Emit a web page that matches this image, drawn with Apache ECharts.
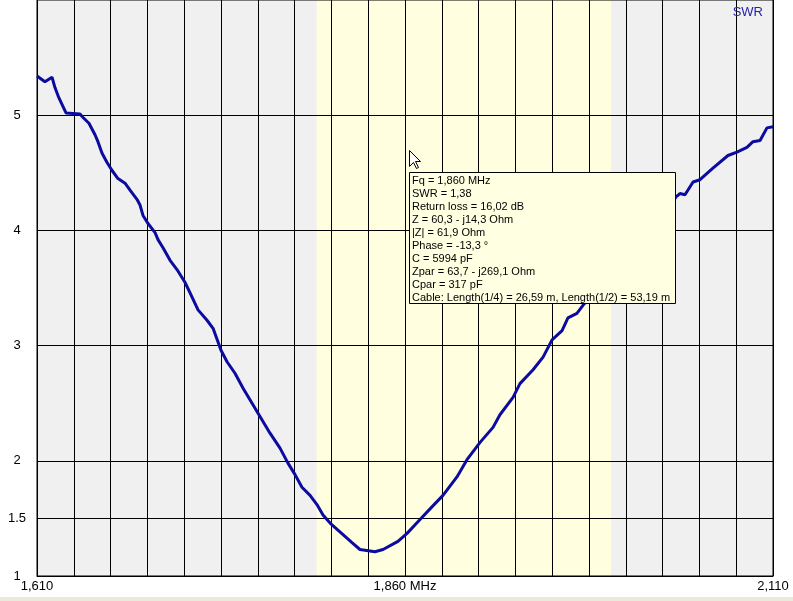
<!DOCTYPE html>
<html>
<head>
<meta charset="utf-8">
<script src="https://cdn.jsdelivr.net/npm/echarts@6/dist/echarts.min.js"></script>
<style>
html,body{margin:0;padding:0;background:#fff;}
#c{width:793px;height:601px;}
</style>
</head>
<body>
<div id="c"></div>
<script>
// Frequency (MHz) and SWR
var freqMHz = [1.6100,1.6154,1.6202,1.6222,1.6249,1.6297,1.6392,1.6413,1.6453,1.6494,1.6514,1.6542,1.6576,1.6610,1.6650,1.6698,1.6732,1.6779,1.6800,1.6820,1.6854,1.6902,1.6922,1.6956,1.7004,1.7051,1.7105,1.7139,1.7194,1.7255,1.7296,1.7350,1.7391,1.7445,1.7500,1.7561,1.7622,1.7683,1.7751,1.7805,1.7853,1.7900,1.7955,1.8002,1.8043,1.8091,1.8179,1.8240,1.8294,1.8396,1.8451,1.8552,1.8614,1.8702,1.8783,1.8858,1.8953,1.9021,1.9110,1.9198,1.9245,1.9334,1.9381,1.9470,1.9538,1.9599,1.9667,1.9707,1.9768,1.9809,1.9925,2.0061,2.0196,2.0319,2.0441,2.0468,2.0502,2.0557,2.0604,2.0692,2.0794,2.0855,2.0923,2.0964,2.1012,2.1059,2.1100];
var swr = [5.34,5.29,5.33,5.24,5.15,5.02,5.01,4.98,4.93,4.83,4.77,4.67,4.59,4.52,4.45,4.41,4.35,4.27,4.22,4.13,4.06,3.98,3.92,3.85,3.74,3.66,3.55,3.46,3.31,3.22,3.15,2.96,2.86,2.76,2.63,2.50,2.37,2.24,2.11,1.98,1.88,1.77,1.70,1.62,1.53,1.46,1.36,1.29,1.23,1.21,1.23,1.30,1.37,1.49,1.60,1.70,1.86,2.01,2.16,2.29,2.40,2.55,2.67,2.79,2.90,3.05,3.13,3.24,3.28,3.35,3.51,3.72,3.92,4.10,4.29,4.32,4.31,4.42,4.44,4.54,4.65,4.68,4.72,4.77,4.78,4.89,4.90];

var xMin = 1.610, xMax = 2.110, xStep = 0.025;
var yMin = 1, yMax = 6;
var bandStart = 1.800, bandEnd = 2.000;

var xLabelValues = [1.610, 1.860, 2.110];
var xLabelTexts = ['1,610', '1,860 MHz', '2,110'];
var yTickValues = [1, 1.5, 2, 3, 4, 5];
var yTickTexts = ['1', '1.5', '2', '3', '4', '5'];

var tooltipLines = [
  'Fq = 1,860 MHz',
  'SWR = 1,38',
  'Return loss = 16,02 dB',
  'Z = 60,3 - j14,3 Ohm',
  '|Z| = 61,9 Ohm',
  'Phase = -13,3 °',
  'C = 5994 pF',
  'Zpar = 63,7 - j269,1 Ohm',
  'Cpar = 317 pF',
  'Cable: Length(1/4) = 26,59 m, Length(1/2) = 53,19 m'
];

var xGridValues = [];
for (var i = 0; i <= Math.round((xMax - xMin) / xStep); i++) {
  xGridValues.push(+(xMin + i * xStep).toFixed(4));
}

var points = freqMHz.map(function (f, i) { return [f, swr[i]]; });

function pick(values, texts, v) {
  for (var i = 0; i < values.length; i++) {
    if (Math.abs(values[i] - v) < 1e-6) return texts[i];
  }
  return '';
}

var FONT = '"Liberation Sans", Arial, sans-serif';
var chart = echarts.init(document.getElementById('c'));
chart.setOption({
  animation: false,
  backgroundColor: '#ffffff',
  title: {
    text: 'SWR', right: 30, top: 6, padding: 0, z: 2,
    textStyle: { color: '#2323A8', fontSize: 13, fontWeight: 'normal', fontFamily: FONT }
  },
  grid: {
    left: 37, right: 20, top: 0, bottom: 25, z: 2,
    show: true, backgroundColor: 'transparent', borderColor: '#000', borderWidth: 1
  },
  xAxis: {
    type: 'value', min: xMin, max: xMax, interval: xStep, z: 2,
    axisLine: { show: true, lineStyle: { color: '#000', width: 1 } },
    axisTick: { show: false, customValues: xGridValues },
    splitLine: { show: true, lineStyle: { color: '#000', width: 1 } },
    axisLabel: {
      customValues: xLabelValues, margin: 4, color: '#000', fontSize: 13, fontFamily: FONT,
      formatter: function (v) { return pick(xLabelValues, xLabelTexts, v); }
    }
  },
  yAxis: {
    type: 'value', min: yMin, max: yMax, z: 2,
    axisLine: { show: true, lineStyle: { color: '#000', width: 1 } },
    axisTick: { show: false, customValues: yTickValues },
    splitLine: { show: true, lineStyle: { color: '#000', width: 1 } },
    axisLabel: {
      customValues: yTickValues, margin: 20, align: 'center', color: '#000', fontSize: 13, fontFamily: FONT,
      formatter: function (v) { return pick(yTickValues, yTickTexts, v); }
    }
  },
  series: [
    {
      type: 'line', data: [], z: 1, silent: true,
      markArea: {
        silent: true, z: 0,
        itemStyle: { color: '#F0F0F0' },
        data: [[{ xAxis: xMin, yAxis: yMin }, { xAxis: xMax, yAxis: yMax }]]
      }
    },
    {
      type: 'line', data: [], z: 1, silent: true,
      markArea: {
        silent: true, z: 1,
        itemStyle: { color: '#FFFFE0' },
        data: [[{ xAxis: bandStart, yAxis: yMin }, { xAxis: bandEnd, yAxis: yMax }]]
      }
    },
    {
      name: 'SWR', type: 'line', data: points, z: 5,
      symbol: 'none', smooth: false,
      lineStyle: { color: '#0B0BA0', width: 3 }
    }
  ],
  graphic: [
    {
      type: 'rect', z: 1,
      shape: { x: 0, y: 597, width: 793, height: 4 },
      style: { fill: '#ECE9D8' }
    },
    {
      type: 'rect', z: 100,
      shape: { x: 409.5, y: 172.5, width: 266, height: 131 },
      style: { fill: '#FFFFE1', stroke: '#000', lineWidth: 1 }
    },
    {
      type: 'text', z: 101, x: 412, y: 174,
      style: {
        text: tooltipLines.join('\n'), fill: '#000',
        fontSize: 11, fontFamily: FONT, lineHeight: 13
      }
    },
    {
      type: 'polygon', z: 101,
      shape: { points: [[409.5,150.5],[409.5,166.5],[413.5,162.5],[416.5,168.5],[418.5,167.5],[415.5,161.5],[420.5,161.5]] },
      style: { fill: '#fff', stroke: '#000', lineWidth: 1 }
    }
  ]
});
</script>
</body>
</html>
